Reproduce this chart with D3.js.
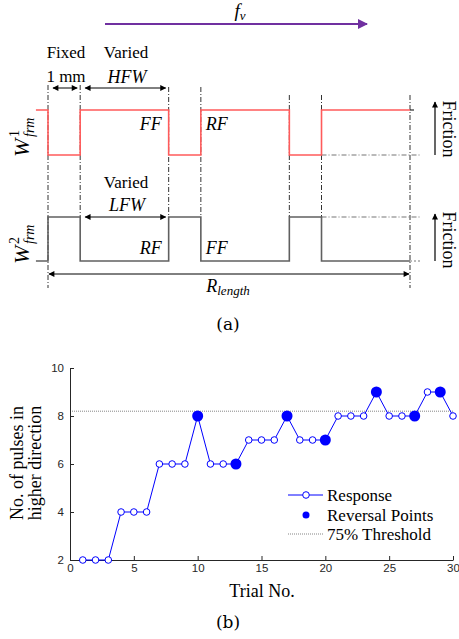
<!DOCTYPE html>
<html><head><meta charset="utf-8">
<script src="https://cdn.jsdelivr.net/npm/d3@7"></script>
<style>
body{margin:0;background:#fff;}
svg{display:block;}
</style></head>
<body><svg id="c" width="459" height="639"></svg>
<script>
// ---------- Part (a) schematic data ----------
const boundaries = [-0.375, 0, 1, 3.75, 4.75, 7.5, 8.5, 11.25]; // mm
const w1States = [1, 0, 1, 0, 1, 0, 1];
const w2States = [0, 1, 0, 1, 0, 1, 0];
const edgeMarks = [0, 1, 3.75, 4.75, 7.5, 8.5, 11.25];

// ---------- Part (b) data ----------
const trials = d3.range(1, 31);
const pulses = [2,2,2,4,4,4,6,6,6,8,6,6,6,7,7,7,8,7,7,7,8,8,8,9,8,8,8,9,9,8];
const reversalTrials = [10, 13, 17, 20, 24, 27, 29];
const threshold = 8.2;
const xTicks = [0,5,10,15,20,25,30];
const yTicks = [2,4,6,8,10];
const legendLabels = ["Response", "Reversal Points", "75% Threshold"];

const SERIF = "'Liberation Serif','Times New Roman',Times,serif";
const CAP = "'DejaVu Serif',serif";
const svg = d3.select("#c");

// ======== Part (a) ========
const xs = d3.scaleLinear().domain([0, 11.25]).range([48, 410]);
const y1 = d3.scaleLinear().domain([0, 1]).range([155, 110]);
const y2 = d3.scaleLinear().domain([0, 1]).range([261, 217]);
const ga = svg.append("g");

const defs = svg.append("defs");
function marker(id, color, w, h){
  defs.append("marker").attr("id", id).attr("viewBox","0 0 10 10").attr("refX",9).attr("refY",5)
    .attr("markerWidth", w).attr("markerHeight", h).attr("orient","auto-start-reverse")
    .attr("markerUnits","userSpaceOnUse")
    .append("path").attr("d","M0,0L10,5L0,10Z").attr("fill", color);
}
marker("ap", "#7030a0", 12, 10);
marker("ak", "#000", 7, 6);

// f_v arrow
ga.append("line").attr("x1",105).attr("x2",367).attr("y1",24).attr("y2",24)
  .attr("stroke","#7030a0").attr("stroke-width",2).attr("marker-end","url(#ap)");
const fv = ga.append("text").attr("font-family",SERIF).attr("x",240).attr("y",17).attr("text-anchor","middle")
  .attr("font-size",19).attr("font-style","italic");
fv.append("tspan").text("f");
fv.append("tspan").attr("font-size",13).attr("dy",3).text("v");

// vertical dash-dot lines
edgeMarks.forEach((m,i)=>{
  const top = i < 2 ? 85 : (i < 4 ? 87 : 95);
  const bot = (i === 0 || i === edgeMarks.length-1) ? 288 : 217;
  ga.append("line").attr("x1",xs(m)).attr("x2",xs(m)).attr("y1",top).attr("y2",bot)
    .attr("stroke","#333").attr("stroke-width",1).attr("stroke-dasharray","5,2,1,2");
});

// horizontal extension dash-dot lines
ga.append("line").attr("x1",xs(8.5)).attr("x2",420).attr("y1",y1(0)).attr("y2",y1(0))
  .attr("stroke","#777").attr("stroke-width",1.2).attr("stroke-dasharray","5,2,1,2");
ga.append("line").attr("x1",xs(8.5)).attr("x2",420).attr("y1",y2(1)).attr("y2",y2(1))
  .attr("stroke","#777").attr("stroke-width",1.2).attr("stroke-dasharray","5,2,1,2");
ga.append("line").attr("x1",xs(11.25)).attr("x2",420).attr("y1",y2(0)).attr("y2",y2(0))
  .attr("stroke","#777").attr("stroke-width",1).attr("stroke-dasharray","2,2");
ga.append("line").attr("x1",xs(11.25)).attr("x2",414).attr("y1",y1(1)).attr("y2",y1(1))
  .attr("stroke","#000").attr("stroke-width",1);

// signals
function stepPts(states){
  const pts = states.map((s,i)=>[boundaries[i], s]);
  pts.push([boundaries[boundaries.length-1], states[states.length-1]]);
  return pts;
}
ga.append("path").datum(stepPts(w1States))
  .attr("d", d3.line().x(d=>xs(d[0])).y(d=>y1(d[1])).curve(d3.curveStepAfter))
  .attr("fill","none").attr("stroke","#ff5b5b").attr("stroke-width",1.6);
ga.append("path").datum(stepPts(w2States))
  .attr("d", d3.line().x(d=>xs(d[0])).y(d=>y2(d[1])).curve(d3.curveStepAfter))
  .attr("fill","none").attr("stroke","#606060").attr("stroke-width",1.6);

// double arrows
function dbl(xa, xb, y){
  ga.append("line").attr("x1",xa).attr("x2",xb).attr("y1",y).attr("y2",y)
    .attr("stroke","#000").attr("stroke-width",1)
    .attr("marker-start","url(#ak)").attr("marker-end","url(#ak)");
}
dbl(xs(0)+5, xs(1)-3, 88);
dbl(xs(1)+5, xs(3.75)-3, 88);
dbl(xs(1)+5, xs(3.75)-3, y2(1));
dbl(xs(0)+1, xs(11.25)-1, 274);

// texts
function txt(x, y, s, size, opts={}){
  const t = ga.append("text").attr("font-family",opts.family||SERIF).attr("x",x).attr("y",y)
    .attr("font-size",size).attr("text-anchor",opts.anchor||"middle").text(s);
  if (opts.italic) t.attr("font-style","italic");
  return t;
}
txt(66, 58, "Fixed", 17);
txt(66, 82, "1 mm", 17);
txt(126, 58, "Varied", 17);
txt(127, 83, "HFW", 18, {italic:true});
txt(126, 188, "Varied", 17);
txt(127, 211, "LFW", 18, {italic:true});
txt(xs(3.75)-7, 130, "FF", 18, {italic:true, anchor:"end"});
txt(xs(4.75)+5, 130, "RF", 18, {italic:true, anchor:"start"});
txt(xs(3.75)-7, 254, "RF", 18, {italic:true, anchor:"end"});
txt(xs(4.75)+5, 254, "FF", 18, {italic:true, anchor:"start"});
const rl = txt(228, 292, "", 18, {italic:true});
rl.append("tspan").text("R");
rl.append("tspan").attr("font-size",13).attr("dy",3).text("length");
txt(228, 330, "(a)", 17, {family:CAP});

// W labels
function wlab(cx, cy, sup){
  const g = ga.append("g").attr("transform",`translate(${cx},${cy}) rotate(-90)`);
  g.append("text").attr("font-family",SERIF).attr("x",-27).attr("y",0).attr("font-size",22)
    .attr("font-style","italic").text("W");
  g.append("text").attr("font-family",SERIF).attr("x",-7).attr("y",-10).attr("font-size",14).text(sup);
  g.append("text").attr("font-family",SERIF).attr("x",-7).attr("y",5).attr("font-size",14)
    .attr("font-style","italic").text("frm");
}
wlab(29, 130, "1");
wlab(29, 237, "2");

// Friction labels and arrows
function friction(cy, yb, yt){
  const g = ga.append("g").attr("transform",`translate(443,${cy}) rotate(90)`);
  g.append("text").attr("font-family",SERIF).attr("text-anchor","middle").attr("font-size",18).text("Friction");
  ga.append("line").attr("x1",435).attr("x2",435).attr("y1",yb).attr("y2",yt)
    .attr("stroke","#000").attr("stroke-width",1.2).attr("marker-end","url(#ak)");
}
friction(129, 155, 102);
friction(240, 261, 214);

// ======== Part (b) ========
const x = d3.scaleLinear().domain([0, 30]).range([70, 453]);
const y = d3.scaleLinear().domain([2, 10]).range([560, 368]);
const gb = svg.append("g");

gb.append("line").attr("x1",x(0)).attr("x2",x(30)).attr("y1",y(threshold)).attr("y2",y(threshold))
  .attr("stroke","#666").attr("stroke-width",0.8).attr("stroke-dasharray","1,1");

const xAxis = gb.append("g").attr("transform",`translate(0,${y(2)})`)
  .call(d3.axisBottom(x).tickValues(xTicks).tickSizeInner(-4).tickSizeOuter(0).tickPadding(4));
const yAxis = gb.append("g").attr("transform",`translate(${x(0)},0)`)
  .call(d3.axisLeft(y).tickValues(yTicks).tickSizeInner(-4).tickSizeOuter(0).tickPadding(6));
[xAxis, yAxis].forEach(a=>{
  a.selectAll("path,line").attr("stroke","#262626").attr("stroke-width",1);
  a.selectAll("text").attr("font-family","'Liberation Sans',Arial,sans-serif").attr("font-size",11.5).attr("fill","#262626");
});

gb.append("path").datum(trials.map((t,i)=>[t,pulses[i]]))
  .attr("d", d3.line().x(d=>x(d[0])).y(d=>y(d[1])))
  .attr("fill","none").attr("stroke","#0000ff").attr("stroke-width",1);
gb.selectAll("circle.resp").data(trials.map((t,i)=>[t,pulses[i]])).enter().append("circle")
  .attr("class","resp").attr("cx",d=>x(d[0])).attr("cy",d=>y(d[1])).attr("r",3.3)
  .attr("fill","#fff").attr("stroke","#0000ff").attr("stroke-width",1);
gb.selectAll("circle.rev").data(reversalTrials).enter().append("circle")
  .attr("class","rev").attr("cx",d=>x(d)).attr("cy",d=>y(pulses[d-1])).attr("r",5.5)
  .attr("fill","#0000ff");

gb.append("text").attr("font-family",SERIF).attr("x",262).attr("y",597).attr("text-anchor","middle")
  .attr("font-size",18).text("Trial No.");
const yl = gb.append("g").attr("transform","translate(0,463) rotate(-90)");
yl.append("text").attr("font-family",SERIF).attr("x",0).attr("y",23).attr("text-anchor","middle").attr("font-size",18).text("No. of pulses in");
yl.append("text").attr("font-family",SERIF).attr("x",0).attr("y",41).attr("text-anchor","middle").attr("font-size",18).text("higher direction");
gb.append("text").attr("font-family",CAP).attr("x",228).attr("y",628).attr("text-anchor","middle")
  .attr("font-size",17).text("(b)");

const lg = gb.append("g");
const rows = [495, 515, 534];
lg.append("line").attr("x1",288).attr("x2",323).attr("y1",rows[0]).attr("y2",rows[0]).attr("stroke","#0000ff").attr("stroke-width",1);
lg.append("circle").attr("cx",306).attr("cy",rows[0]).attr("r",3.3).attr("fill","#fff").attr("stroke","#0000ff");
lg.append("circle").attr("cx",306).attr("cy",rows[1]).attr("r",3.5).attr("fill","#0000ff");
lg.append("line").attr("x1",288).attr("x2",323).attr("y1",rows[2]).attr("y2",rows[2]).attr("stroke","#666").attr("stroke-width",0.8).attr("stroke-dasharray","1,1");
legendLabels.forEach((l,i)=>{
  lg.append("text").attr("font-family",SERIF).attr("x",327).attr("y",rows[i]+5.5).attr("font-size",17).text(l);
});
</script></body></html>
